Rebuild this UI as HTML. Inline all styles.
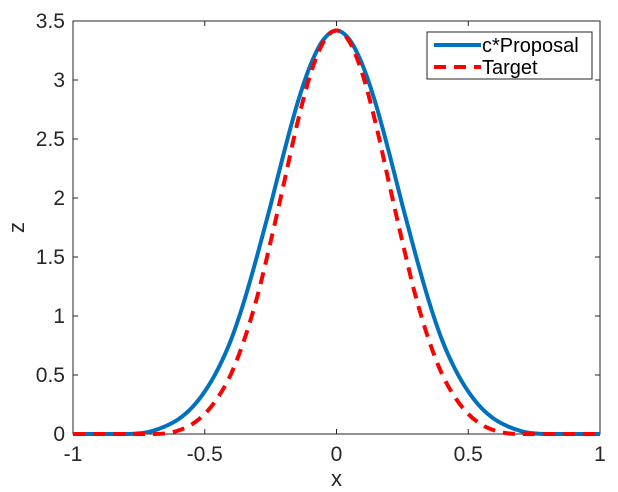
<!DOCTYPE html>
<html><head><meta charset="utf-8"><style>
html,body{margin:0;padding:0;background:#fff;}
svg{display:block;font-family:"Liberation Sans",sans-serif;}
</style></head><body>
<svg id="chart" width="618" height="492">
<rect width="618" height="492" fill="#fff"/>
<g id="axes"></g>
<g id="series"></g>
<g id="legend">
 <rect x="427" y="32" width="165" height="47" fill="#fff" stroke="#262626" stroke-width="1"/>
 <line x1="434" y1="45" x2="481" y2="45" stroke="#0072BD" stroke-width="4"/>
 <text x="482" y="52" font-size="20" fill="#000">c*Proposal</text>
 <line x1="434" y1="67" x2="481" y2="67" stroke="#FF0000" stroke-width="4" stroke-dasharray="12,8"/>
 <text x="482" y="74" font-size="20" fill="#000">Target</text>
</g>
</svg>
<script>
const xs = [-1,-0.95,-0.9,-0.85,-0.8,-0.75,-0.7,-0.65,-0.6,-0.55,-0.5,-0.45,-0.4,-0.35,-0.3,-0.25,-0.2,-0.15,-0.1,-0.05,0,0.05,0.1,0.15,0.2,0.25,0.3,0.35,0.4,0.45,0.5,0.55,0.6,0.65,0.7,0.75,0.8,0.85,0.9,0.95,1];
const proposal = [0,0,0,0,0,0.005,0.025,0.065,0.125,0.22,0.36,0.55,0.80,1.13,1.52,1.94,2.38,2.79,3.12,3.34,3.42,3.34,3.12,2.79,2.38,1.94,1.52,1.13,0.80,0.55,0.36,0.22,0.125,0.065,0.025,0.005,0,0,0,0,0];
const target = [0,0,0,0,0,0,0,0.005,0.03,0.08,0.17,0.31,0.51,0.80,1.17,1.63,2.12,2.62,3.04,3.32,3.42,3.32,3.04,2.62,2.12,1.63,1.17,0.80,0.51,0.31,0.17,0.08,0.03,0.005,0,0,0,0,0,0,0];
const xTicks = [-1,-0.5,0,0.5,1];
const xTickLabels = ["-1","-0.5","0","0.5","1"];
const yTicks = [0,0.5,1,1.5,2,2.5,3,3.5];
const yTickLabels = ["0","0.5","1","1.5","2","2.5","3","3.5"];

const L=73,R=600,T=21,B=434;
const sx=v=>L+(v+1)/2*(R-L);
const sy=v=>B-v/3.5*(B-T);
const NS="http://www.w3.org/2000/svg";
function mk(tag,attrs,parent){const e=document.createElementNS(NS,tag);for(const k in attrs)e.setAttribute(k,attrs[k]);parent.appendChild(e);return e;}
const ax=document.getElementById('axes');
const box=mk('rect',{x:L,y:T,width:R-L,height:B-T,fill:'none',stroke:'#262626','stroke-width':1},ax);


xTicks.forEach((t,i)=>{
  const x=sx(t);
  mk('line',{x1:x,y1:B,x2:x,y2:B-5,stroke:'#262626'},ax);
  mk('line',{x1:x,y1:T,x2:x,y2:T+5,stroke:'#262626'},ax);
  const tx=mk('text',{x:x,y:B+27,'font-size':21,fill:'#262626','text-anchor':'middle'},ax);
  tx.textContent=xTickLabels[i];
  
  
});
yTicks.forEach((t,i)=>{
  const y=sy(t);
  mk('line',{x1:L,y1:y,x2:L+5,y2:y,stroke:'#262626'},ax);
  mk('line',{x1:R,y1:y,x2:R-5,y2:y,stroke:'#262626'},ax);
  const tx=mk('text',{x:L-8,y:y+7,'font-size':21,fill:'#262626','text-anchor':'end'},ax);
  tx.textContent=yTickLabels[i];
  
  
});
const xl=mk('text',{x:(L+R)/2,y:486,'font-size':22,fill:'#262626','text-anchor':'middle'},ax);
xl.textContent='x';


const yl=mk('text',{x:0,y:0,'font-size':22,fill:'#262626','text-anchor':'middle',transform:`translate(24,${(T+B)/2}) rotate(-90)`},ax);
yl.textContent='z';



function path(vals){
  const p=xs.map((x,i)=>[sx(x),sy(vals[i])]);
  let d=`M${p[0][0]},${p[0][1]}`;
  for(let i=0;i<p.length-1;i++){
    const p0=p[Math.max(i-1,0)],p1=p[i],p2=p[i+1],p3=p[Math.min(i+2,p.length-1)];
    const c1=[p1[0]+(p2[0]-p0[0])/6,p1[1]+(p2[1]-p0[1])/6];
    const c2=[p2[0]-(p3[0]-p1[0])/6,p2[1]-(p3[1]-p1[1])/6];
    d+=`C${c1[0]},${Math.min(c1[1],B)} ${c2[0]},${Math.min(c2[1],B)} ${p2[0]},${p2[1]}`;
  }
  return d;
}
const sg=document.getElementById('series');
const pl=mk('path',{d:path(proposal),fill:'none',stroke:'#0072BD','stroke-width':4},sg);


const tl=mk('path',{d:path(target),fill:'none',stroke:'#FF0000','stroke-width':4,'stroke-dasharray':'12,8'},sg);


</script>
</body></html>
